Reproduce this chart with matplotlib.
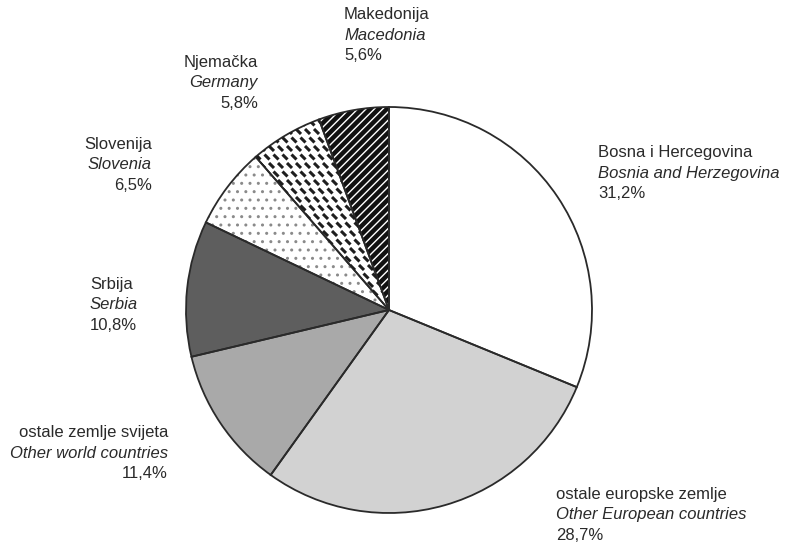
import numpy as np
import matplotlib.pyplot as plt
from matplotlib.collections import LineCollection

names_hr = ['Bosna i Hercegovina', 'ostale europske zemlje', 'ostale zemlje svijeta',
            'Srbija', 'Slovenija', 'Njemačka', 'Makedonija']
names_en = ['Bosnia and Herzegovina', 'Other European countries', 'Other world countries',
            'Serbia', 'Slovenia', 'Germany', 'Macedonia']
shares = [31.2, 28.7, 11.4, 10.8, 6.5, 5.8, 5.6]

colors = ['white', '#d2d2d2', '#a9a9a9', '#5e5e5e', 'white', 'white', '#111111']
hatches = [None, None, None, None, '..', None, '////']
hatch_edges = ['#333', '#333', '#333', '#333', '#8a8a8a', '#333', 'white']

# label anchor (pixel x, pixel y of first line) and alignment
label_pos = [(598, 153, 'left'), (556, 494, 'left'), (168, 433, 'right'),
             (90, 284, 'left'), (152, 144, 'right'), (258, 62, 'right'), (344, 15, 'left')]

plt.rcParams['font.family'] = ['Liberation Sans', 'DejaVu Sans']

W, H = 785, 543
fig = plt.figure(figsize=(W / 100, H / 100), dpi=100)
ax = fig.add_axes([0, 0, 1, 1])

center = (389, H - 310)
radius = 203

wedges, _ = ax.pie(shares, colors=colors, startangle=90, counterclock=False,
                   center=center, radius=radius, wedgeprops=dict(linewidth=0),
                   frame=True)
for w, h, ec in zip(wedges, hatches, hatch_edges):
    if h:
        w.set_hatch(h)
        w.set_edgecolor(ec)

# short slanted dashes for Germany
gw = wedges[5]
segs = []
for j, yy in enumerate(np.arange(center[1], center[1] + radius + 10, 8.5)):
    for xx in np.arange(center[0] - radius + (j % 2) * 4.5, center[0] + 10, 9):
        segs.append([(xx - 2.5, yy + 2.5), (xx + 2.5, yy - 2.5)])
lc = LineCollection(segs, colors='#1e1e1e', linewidths=2.2)
ax.add_collection(lc)
lc.set_clip_path(gw)

ax.pie(shares, startangle=90, counterclock=False, center=center, radius=radius,
       wedgeprops=dict(fill=False, edgecolor='#2a2a2a', linewidth=1.3), frame=True)
ax.set_xlim(0, W)
ax.set_ylim(0, H)
ax.set_aspect('equal')
ax.axis('off')

for hr, en, s, (px, py, ha) in zip(names_hr, names_en, shares, label_pos):
    lines = [(hr, 'normal'), (en, 'italic'), (f'{s:.1f}%'.replace('.', ','), 'normal')]
    for i, (txt, style) in enumerate(lines):
        ax.text(px, H - (py + i * 20.5), txt, ha=ha, va='center', fontsize=12,
                style=style, color='#2a2a2a')

fig.savefig('out.png', dpi=100)
